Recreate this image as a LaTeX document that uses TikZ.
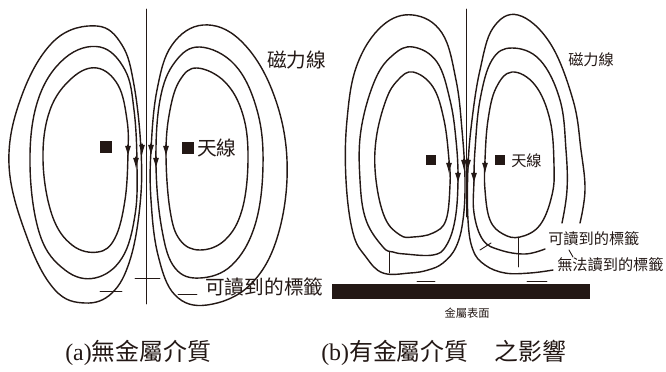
\documentclass[tikz,border=0pt]{standalone}
\usepackage{fontspec}
\setmainfont{Liberation Serif}
\newfontfamily\cjk{Noto Sans CJK TC}
\usetikzlibrary{arrows.meta}
\definecolor{FieldInk}{HTML}{231815}

\tikzset{
  fieldline/.style={FieldInk,line width=1pt},
  thinline/.style={FieldInk,line width=0.65pt},
  flowtip/.style={-{Latex[length=2.8mm,width=1.5mm]},FieldInk,line width=0.9pt},
  antenna/.style={fill=FieldInk,inner sep=0pt},
  bigtag/.style={font=\cjk\fontsize{14}{15}\selectfont,text=FieldInk,inner sep=0pt,anchor=west},
  smalltag/.style={font=\cjk\fontsize{10.8}{12}\selectfont,text=FieldInk,inner sep=0pt,anchor=west},
  caption/.style={font=\fontsize{17}{19}\selectfont,text=FieldInk,inner sep=0pt,anchor=west}
}

\begin{document}
\begin{tikzpicture}[x=0.025cm,y=-0.025cm,line cap=round,line join=round]
  \useasboundingbox (0,0) rectangle (666,371);

  % (a) free space: axis and three loops on each side
  \draw[thinline] (146,9) -- (146,304);
  \draw[fieldline] plot[smooth cycle,tension=0.65] coordinates {(97,26) (122,45) (134,85) (141,150) (140,205) (130,260) (112,293) (85,303) (55,290) (28,240) (9,165) (22,95) (55,40)};
  \draw[fieldline] plot[smooth cycle,tension=0.65] coordinates {(100,47) (125,70) (134,110) (137,165) (135,215) (122,258) (95,278) (65,270) (40,235) (30,165) (38,100) (65,58)};
  \draw[fieldline] plot[smooth cycle,tension=0.65] coordinates {(97,68) (118,85) (127,120) (128,153) (125,200) (115,238) (98,252) (72,245) (52,215) (43,160) (50,110) (72,78)};
  \draw[fieldline] plot[smooth cycle,tension=0.65] coordinates {(203,25) (240,40) (272,90) (287,160) (278,235) (250,285) (207,305) (175,295) (158,255) (151,200) (151,150) (157,90) (172,45)};
  \draw[fieldline] plot[smooth cycle,tension=0.65] coordinates {(200,47) (235,65) (257,110) (263,165) (255,225) (232,265) (200,278) (175,268) (162,230) (156,165) (160,100) (175,62)};
  \draw[fieldline] plot[smooth cycle,tension=0.65] coordinates {(197,68) (225,82) (243,115) (248,160) (242,210) (225,240) (200,250) (180,240) (170,210) (166,153) (170,110) (180,80)};
  \foreach \x/\y in {128/153,136/165,142/152,151/152,156/165,166/153}
    \draw[flowtip] (\x,\y-8) -- (\x,\y+4);
  % tags
  \draw[thinline] (135,278) -- (160,278);
  \draw[thinline] (100,291) -- (122,291);
  \draw[thinline] (178,294) -- (197,294);
  \node[antenna,minimum size=0.28cm] (antA1) at (106,147) {};
  \node[antenna,minimum size=0.28cm] (antA2) at (188,148) {};
  \node[bigtag] (antLabelA) at (197,148) {天線};
  \node[bigtag] (fieldLabelA) at (267,60) {磁力線};
  \node[bigtag] (readA) at (205,287) {可讀到的標籤};

  % (b) same loops squeezed against the metal plate
  \draw[thinline] (466,9) -- (466,217);
  \draw[fieldline] plot[smooth cycle,tension=0.65] coordinates {(413,15) (442,33) (456,80) (462,130) (465,180) (463,220) (456,247) (443,263) (428,270) (410,273) (383,273) (366,257) (353,233) (346,180) (347,120) (357,65) (382,26)};
  \draw[fieldline] plot[smooth cycle,tension=0.65] coordinates {(413,47) (437,62) (450,100) (456,140) (458,180) (455,220) (446,246) (433,255) (405,254) (393,252) (383,247) (366,220) (360,180) (361,130) (375,80) (393,55)};
  \draw[fieldline] plot[smooth cycle,tension=0.65] coordinates {(413,72) (433,87) (444,120) (449,160) (450,185) (446,220) (433,233) (413,237) (400,235) (385,218) (376,180) (376,140) (386,100) (398,80)};
  \draw[fieldline] plot[smooth,tension=0.65] coordinates {(580,223) (585,190) (581,150) (573,100) (550,43) (518,15) (493,28) (480,70) (472,120) (468,167) (468,220) (473,250) (485,265) (505,273) (530,273) (553,270)};
  \draw[fieldline] plot[smooth,tension=0.65] coordinates {(562,223) (567,190) (566,150) (560,100) (540,60) (512,48) (492,60) (480,100) (475,150) (474,180) (474,213) (483,240) (500,250) (525,254) (545,249)};
  \draw[fieldline] plot[smooth cycle,tension=0.65] coordinates {(512,72) (535,85) (550,120) (554,165) (552,195) (540,225) (520,237) (503,234) (490,220) (485,190) (485,160) (488,120) (496,88)};
  \foreach \x/\y in {449/170,458/180,464/167,468/167,474/180,485/170}
    \draw[flowtip] (\x,\y-8) -- (\x,\y+4);
  % tags and leader
  \draw[thinline] (389,252) -- (389,273);
  \draw[thinline] (518,237) -- (518,267);
  \draw[thinline] (480,250) -- (491,243);
  \draw[thinline] (417,281) -- (435,281);
  \draw[thinline] (527,281) -- (547,281);
  \draw[thinline] (569,250) -- (573,257);
  \fill[FieldInk] (332,284) rectangle (590,299);
  \node[font=\cjk\fontsize{8}{9}\selectfont,text=FieldInk,inner sep=0pt] (plate) at (467,313) {金屬表面};
  \node[antenna,minimum size=0.23cm] (antB1) at (431,160) {};
  \node[antenna,minimum size=0.23cm] (antB2) at (500,160) {};
  \node[smalltag] (antLabelB) at (511,161) {天線};
  \node[smalltag] (fieldLabelB) at (568,60) {磁力線};
  \node[smalltag] (readB) at (548,239) {可讀到的標籤};
  \node[smalltag] (unreadB) at (557,265) {無法讀到的標籤};

  % captions
  \node[caption] (capA) at (65,353) {(a){\cjk 無金屬介質}};
  \node[caption] (capB) at (321,353) {(b){\cjk 有金屬介質}\hspace{1.1em}{\cjk 之影響}};
\end{tikzpicture}
\end{document}
